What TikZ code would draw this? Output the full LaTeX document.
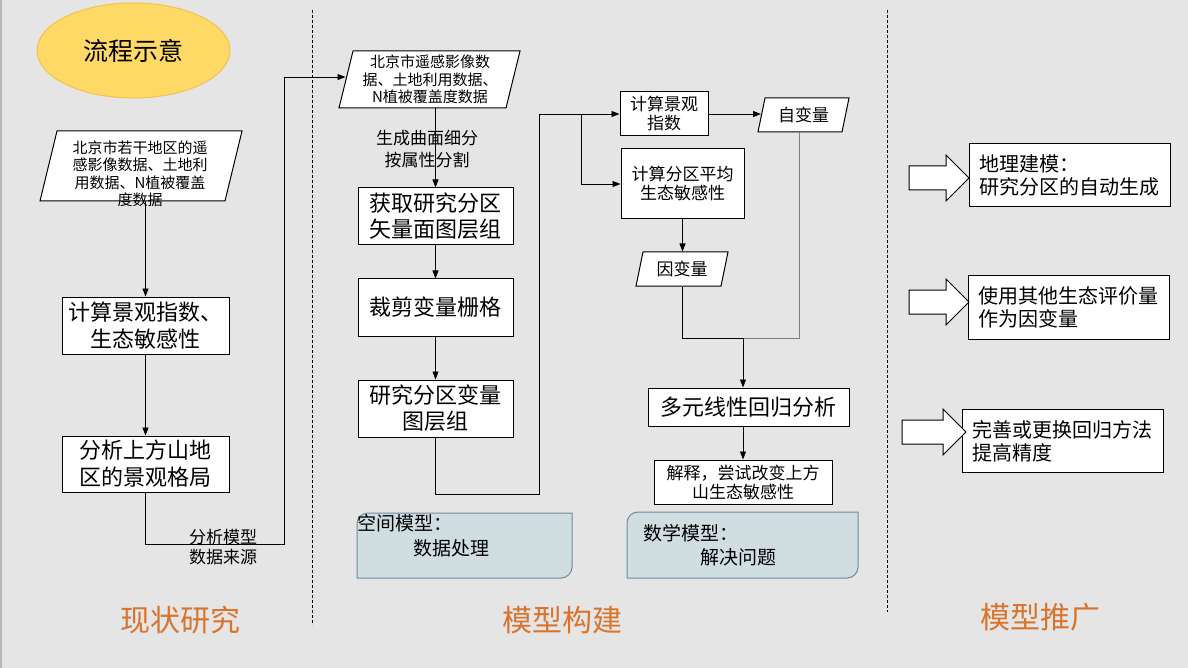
\documentclass[tikz,border=0pt]{standalone}
\usepackage{fontspec}
\setmainfont{Noto Sans CJK SC}
\usepackage{tikz}
\usetikzlibrary{positioning, shapes.geometric, shapes.arrows, arrows.meta}

\definecolor{slidebg}{HTML}{E5E5E5}
\definecolor{ellfill}{HTML}{FFD966}
\definecolor{elledge}{HTML}{F2C14E}
\definecolor{partorange}{HTML}{D8742C}
\definecolor{modelfill}{HTML}{D0DEE1}
\definecolor{modeledge}{HTML}{6F8BA0}

\newcommand{\fsz}[2]{\fontsize{#1}{#2}\selectfont}

\begin{document}
\begin{tikzpicture}[x=1pt, y=1pt,
    proc/.style = {draw, fill=white, line width=1pt, align=center, inner sep=0pt},
    datain/.style = {draw, fill=white, line width=1pt, inner sep=0pt},
    txt/.style = {align=center, inner sep=0pt},
    arr/.style = {-{Triangle[length=8pt, width=6pt]}, line width=0.9pt},
    link/.style = {line width=0.9pt},
    sep/.style = {dash pattern=on 3pt off 2pt, line width=0.8pt},
    bigarr/.style = {single arrow, draw, fill=white, line width=1pt, minimum height=60pt,
        inner xsep=0pt, inner ysep=11.5pt, single arrow head extend=11pt},
    part/.style = {text=partorange, font=\fsz{30}{36}},
    modelbox/.style = {fill=modelfill, draw=modeledge, line width=1pt},
    ext/.style = {draw, fill=white, line width=1pt, align=left, text width=181pt,
        inner xsep=10pt, minimum height=63pt, font=\fsz{20}{23}}
]
    \fill[slidebg] (0,0) rectangle (1188,-668);
    \useasboundingbox (0,0) rectangle (1188,-668);
    \draw[gray!55, line width=1.5pt] (0.75,0) -- (0.75,-668);

    % columns
    \draw[sep] (312,-10) -- (312,-625);
    \draw[sep] (887,-10) -- (887,-612);

    \node[ellipse, fill=ellfill, draw=elledge, line width=1pt, minimum width=193pt,
        minimum height=95pt, font=\fsz{25}{30}] (flow) at (133.5,-50.5) {流程示意};

    % current state
    \node[datain, xslant=0.243, minimum width=185pt, minimum height=70pt] (srcA) at (141,-166) {};
    \node[txt, font=\fsz{15}{17.5}] (srcAtxt) at (140,-174) {北京市若干地区的遥\\感影像数据、土地利\\用数据、N植被覆盖\\度数据};
    \node[proc, minimum width=167pt, minimum height=57pt, font=\fsz{22}{27}] (calcA) at (145.5,-325.5) {计算景观指数、\\生态敏感性};
    \node[proc, minimum width=167pt, minimum height=56pt, font=\fsz{22}{27}, below=81pt of calcA] (analA) {分析上方山地\\区的景观格局};
    \draw[arr] (srcA.south -| calcA.north) -- (calcA.north);
    \draw[arr] (calcA) -- (analA);

    % model building
    \node[datain, xslant=0.246, minimum width=167pt, minimum height=57pt] (srcB) at (429.5,-79.5) {};
    \node[txt, font=\fsz{15}{17.5}] (srcBtxt) at (430,-79.5) {北京市遥感影像数\\据、土地利用数据、\\N植被覆盖度数据};
    \node[proc, minimum width=155pt, minimum height=57pt, font=\fsz{22}{26}] (getB) at (435.5,-216.5) {获取研究分区\\矢量面图层组};
    \node[proc, minimum width=155pt, minimum height=57pt, font=\fsz{22}{26}, below=33pt of getB] (cropB) {裁剪变量栅格};
    \node[proc, minimum width=155pt, minimum height=57pt, font=\fsz{22}{26}, below=43pt of cropB] (layerB) {研究分区变量\\图层组};

    \coordinate (turnA) at (284,-544);
    \draw[arr] (analA.south) |- (turnA) |- ([yshift=2.5pt]srcB.west);
    \node[txt, font=\fsz{17}{20}] (srcLbl) at (223,-547) {分析模型\\数据来源};

    \draw[arr] (srcB.south -| getB.north) -- (getB.north);
    \node[txt, font=\fsz{17}{21.5}] (splitLbl) at (427,-149) {生成曲面细分\\按属性分割};
    \draw[arr] (getB) -- (cropB);
    \draw[arr] (cropB) -- (layerB);

    \node[proc, minimum width=88pt, minimum height=44pt, font=\fsz{17}{19}] (calcC) at (664,-114) {计算景观\\指数};
    \node[proc, minimum width=123pt, minimum height=70pt, font=\fsz{17}{19}] (calcD) at (682.5,-184) {计算分区平均\\生态敏感性};
    \node[datain, xslant=0.206, minimum width=84pt, minimum height=34pt] (indepC) at (803.5,-115) {};
    \node[txt, font=\fsz{17}{19}] (indepCtxt) at (indepC) {自变量};
    \node[datain, xslant=0.206, minimum width=85pt, minimum height=34pt] (depC) at (682,-269) {};
    \node[txt, font=\fsz{17}{19}] (depCtxt) at (depC) {因变量};
    \node[proc, minimum width=201pt, minimum height=38pt, font=\fsz{22}{26}] (regC) at (748.5,-407) {多元线性回归分析};
    \node[proc, minimum width=178pt, minimum height=44pt, font=\fsz{17}{19}] (explC) at (743,-482) {解释，尝试改变上方\\山生态敏感性};

    \coordinate (turnC) at (539,-494);
    \coordinate (fork) at (581,-114);
    \coordinate (join) at (743,-338);
    \draw[arr] (layerB.south) |- (turnC) |- (calcC.west);
    \draw[arr] (fork) |- (calcD.west);
    \draw[arr] (calcC.east) -- (calcC.east -| indepC.west);
    \draw[arr] (calcD.south) -- (calcD.south |- depC.north);
    \draw[link] (calcD.south |- depC.south) |- (join);
    \draw[link, draw=gray] (indepC.south) |- (join);
    \draw[arr] (join) -- (join |- regC.north);
    \draw[arr] (explC.north |- regC.south) -- (explC.north);

    \draw[modelbox] (357,-578) -- (357,-524) arc[start angle=180, end angle=90, radius=11]
        -- (572,-513) -- (572,-567) arc[start angle=0, end angle=-90, radius=11] -- cycle;
    \node[txt, anchor=west, align=left, font=\fsz{19}{25}] (spaceTxt) at (357,-535.5) {空间模型：\\\hspace*{56pt}数据处理};
    \draw[modelbox] (627,-578) -- (627,-523) arc[start angle=180, end angle=90, radius=11]
        -- (858,-512) -- (858,-567) arc[start angle=0, end angle=-90, radius=11] -- cycle;
    \node[txt, anchor=west, align=left, font=\fsz{19}{24}] (mathTxt) at (643,-545) {数学模型：\\\hspace*{57pt}解决问题};

    % outlook
    \node[ext] (ext1) at (1069.5,-175.5) {地理建模：\\研究分区的自动生成};
    \node[ext] (ext2) at (1068.5,-307.5) {使用其他生态评价量\\作为因变量};
    \node[ext] (ext3) at (1063,-441) {完善或更换回归方法\\提高精度};
    \node[bigarr] (arr1) at (933,-178) {};
    \node[bigarr] (arr2) at (933,-302) {};
    \node[bigarr, minimum height=64pt] (arr3) at (928,-432) {};

    \node[part] (partA) at (180,-620) {现状研究};
    \node[part] (partB) at (562,-620) {模型构建};
    \node[part] (partC) at (1040,-617) {模型推广};
\end{tikzpicture}
\end{document}
